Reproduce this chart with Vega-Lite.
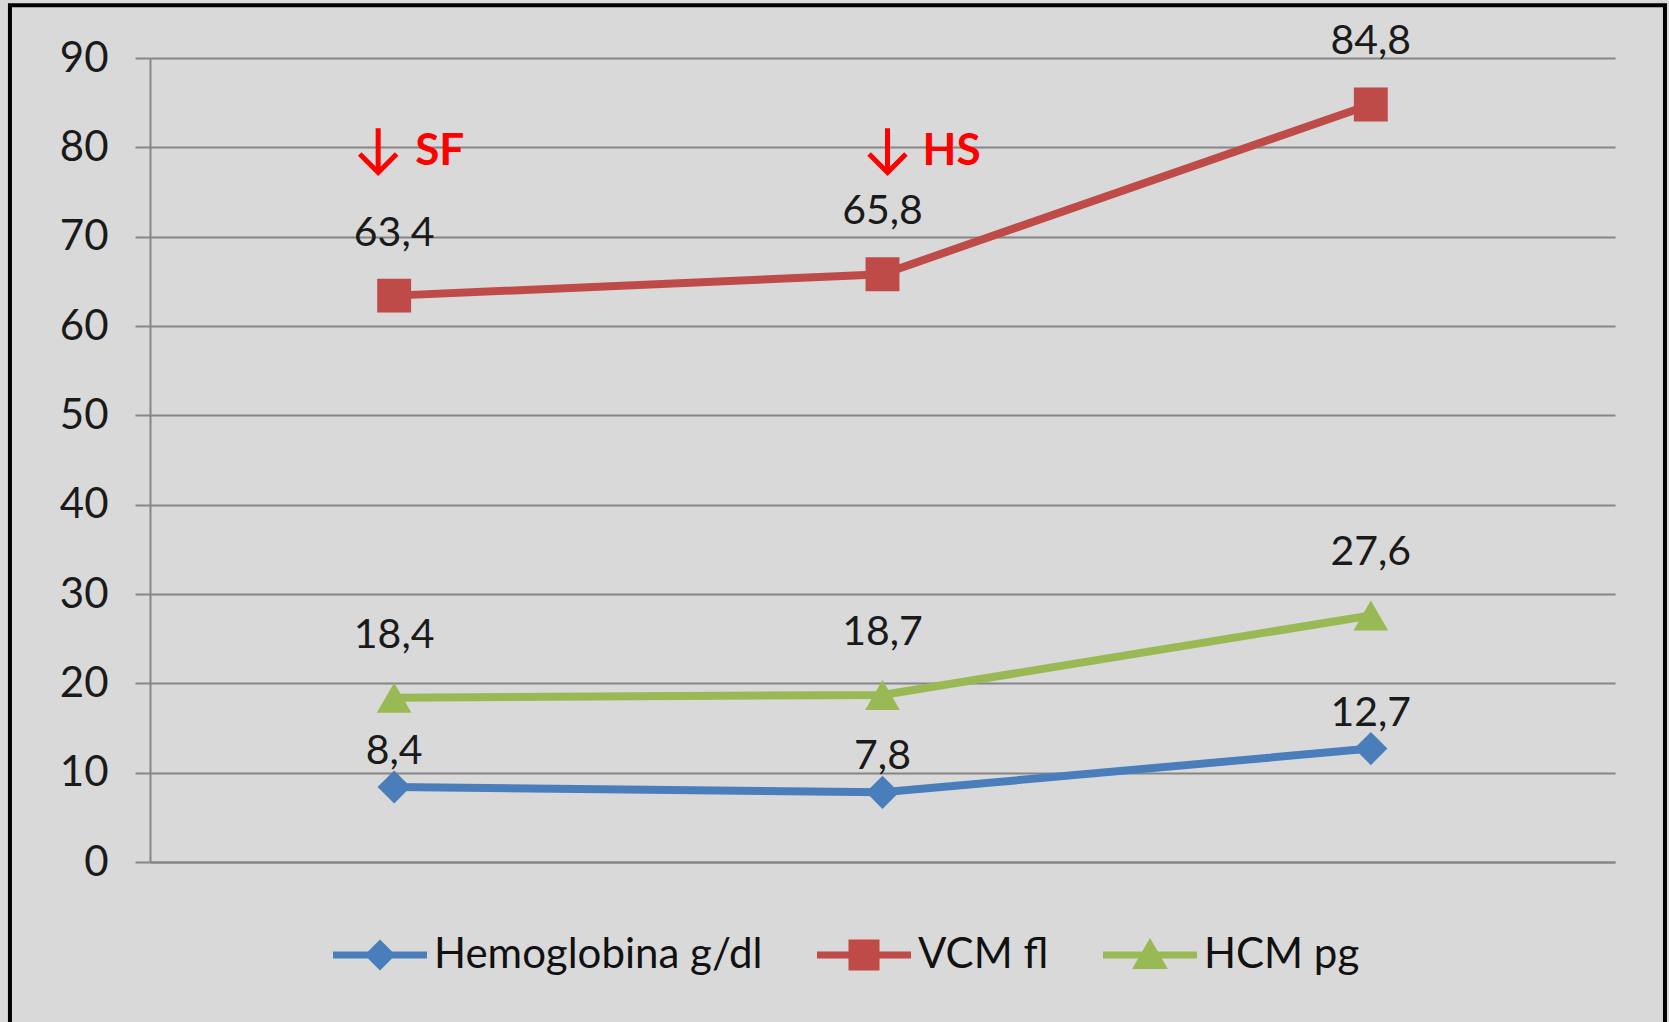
{
  "$schema": "https://vega.github.io/schema/vega-lite/v6.json",
  "width": 1465,
  "height": 804,
  "autosize": {"type": "none"},
  "padding": {"left": 150, "top": 58, "right": 54, "bottom": 160},
  "background": "#d9d9d9",
  "config": {
    "view": {"stroke": null},
    "font": "Lato",
    "locale": {"number": {"decimal": ",", "thousands": ".", "grouping": [3], "currency": ["", " €"]}}
  },
  "datasets": {
    "main": [
      {"cat": "1", "series": "Hemoglobina g/dl", "value": 8.4},
      {"cat": "2", "series": "Hemoglobina g/dl", "value": 7.8},
      {"cat": "3", "series": "Hemoglobina g/dl", "value": 12.7},
      {"cat": "1", "series": "VCM fl", "value": 63.4},
      {"cat": "2", "series": "VCM fl", "value": 65.8},
      {"cat": "3", "series": "VCM fl", "value": 84.8},
      {"cat": "1", "series": "HCM pg", "value": 18.4},
      {"cat": "2", "series": "HCM pg", "value": 18.7},
      {"cat": "3", "series": "HCM pg", "value": 27.6}
    ],
    "notes": [
      {"cat": "1", "value": 78, "note": "SF"},
      {"cat": "2", "value": 78, "note": "HS"}
    ],
    "frame": [{"k": 1}]
  },
  "resolve": {"scale": {"x": "independent"}, "axis": {"x": "independent"}},
  "layer": [
    {
      "data": {"name": "frame"},
      "mark": {"type": "rect", "fill": null, "stroke": "#000000", "strokeWidth": 4, "clip": false},
      "encoding": {
        "x": {"datum": -0.0956, "type": "quantitative", "scale": {"domain": [0, 1], "nice": false, "zero": false}, "axis": null},
        "x2": {"datum": 1.0341},
        "y": {"datum": 95.9, "type": "quantitative", "scale": {"domain": [0, 90], "nice": false, "zero": false}},
        "y2": {"datum": -25}
      }
    },
    {
      "layer": [
        {
          "data": {"name": "main"},
          "mark": {"type": "line", "strokeWidth": 8},
          "encoding": {
            "x": {"field": "cat", "type": "ordinal", "scale": {"type": "point", "padding": 0.5, "domain": ["1", "2", "3"]},
              "axis": {"labels": false, "ticks": false, "title": null, "grid": false, "domainColor": "#868686", "domainWidth": 2}},
            "y": {"field": "value", "type": "quantitative",
              "scale": {"domain": [0, 90], "nice": false, "zero": false},
              "axis": {"values": [0, 10, 20, 30, 40, 50, 60, 70, 80, 90], "title": null, "labelFontSize": 42, "labelFont": "Lato",
                "labelColor": "#1a1a1a", "labelPadding": 27, "tickSize": 15, "tickColor": "#868686", "tickWidth": 2,
                "domainColor": "#868686", "domainWidth": 2, "grid": true, "gridColor": "#868686", "gridWidth": 2}},
            "color": {"field": "series", "type": "nominal",
              "scale": {"domain": ["Hemoglobina g/dl", "VCM fl", "HCM pg"], "range": ["#4a7ebb", "#be4b48", "#98b954"]},
              "legend": {
                "title": null, "orient": "none", "legendX": 183, "legendY": 850, "direction": "horizontal",
                "labelFontSize": 42, "labelFont": "Lato", "labelColor": "#111111", "labelLimit": 0, "symbolSize": 8836,
                "labelOffset": 7, "columnPadding": 54, "symbolStrokeWidth": 0,
                "encode": {"symbols": {"update": {
                  "shape": {"signal": "datum.value === 'VCM fl' ? 'M-1,-0.075H1V0.075H-1Z M-0.33,-0.33H0.33V0.33H-0.33Z' : datum.value === 'HCM pg' ? 'M-1,-0.075H1V0.075H-1Z M0,-0.36L0.38,0.3H-0.38Z' : 'M-1,-0.075H1V0.075H-1Z M0,-0.33L0.33,0L0,0.33L-0.33,0Z'"},
                  "fill": {"signal": "datum.value === 'VCM fl' ? '#be4b48' : datum.value === 'HCM pg' ? '#98b954' : '#4a7ebb'"},
                  "strokeWidth": {"value": 0}
                }}}
              }},
            "order": {"field": "cat"}
          }
        },
        {
          "data": {"name": "main"},
          "mark": {"type": "point", "filled": true, "opacity": 1},
          "encoding": {
            "x": {"field": "cat", "type": "ordinal"},
            "y": {"field": "value", "type": "quantitative"},
            "color": {"field": "series", "type": "nominal"},
            "shape": {"field": "series", "type": "nominal", "scale": {"domain": ["VCM fl", "HCM pg", "Hemoglobina g/dl"], "range": ["square", "triangle-up", "diamond"]}, "legend": null},
            "size": {"field": "series", "type": "nominal", "scale": {"domain": ["HCM pg", "VCM fl", "Hemoglobina g/dl"], "range": [1200, 1100, 950]}, "legend": null}
          }
        },
        {
          "data": {"name": "main"},
          "transform": [{"filter": "datum.series !== 'Hemoglobina g/dl'"}],
          "mark": {"type": "text", "fontSize": 41, "font": "Lato", "color": "#1a1a1a", "baseline": "alphabetic", "dy": -50},
          "encoding": {
            "x": {"field": "cat", "type": "ordinal"},
            "y": {"field": "value", "type": "quantitative"},
            "text": {"field": "value", "type": "quantitative", "format": ".1f"}
          }
        },
        {
          "data": {"name": "main"},
          "transform": [{"filter": "datum.series === 'Hemoglobina g/dl'"}],
          "mark": {"type": "text", "fontSize": 41, "font": "Lato", "color": "#1a1a1a", "baseline": "alphabetic", "dy": -23},
          "encoding": {
            "x": {"field": "cat", "type": "ordinal"},
            "y": {"field": "value", "type": "quantitative"},
            "text": {"field": "value", "type": "quantitative", "format": ".1f"}
          }
        },
        {
          "data": {"name": "notes"},
          "transform": [{"filter": "datum.cat === '1'"}],
          "mark": {"type": "text", "fontSize": 44, "font": "Lato", "fontWeight": "bold", "color": "#ff0000", "baseline": "alphabetic", "align": "left", "dx": 21},
          "encoding": {
            "x": {"field": "cat", "type": "ordinal"},
            "y": {"field": "value", "type": "quantitative"},
            "text": {"field": "note"}
          }
        },
        {
          "data": {"name": "notes"},
          "transform": [{"filter": "datum.cat === '1'"}],
          "mark": {"type": "point", "shape": "M0,-1L0,0.97M-0.82,0.15L0,0.97L0.82,0.15", "filled": false, "stroke": "#ff0000", "strokeWidth": 5, "opacity": 1, "size": 2025, "xOffset": -16, "yOffset": -14.5},
          "encoding": {
            "x": {"field": "cat", "type": "ordinal"},
            "y": {"field": "value", "type": "quantitative"}
          }
        },
        {
          "data": {"name": "notes"},
          "transform": [{"filter": "datum.cat === '2'"}],
          "mark": {"type": "text", "fontSize": 44, "font": "Lato", "fontWeight": "bold", "color": "#ff0000", "baseline": "alphabetic", "align": "left", "dx": 40},
          "encoding": {
            "x": {"field": "cat", "type": "ordinal"},
            "y": {"field": "value", "type": "quantitative"},
            "text": {"field": "note"}
          }
        },
        {
          "data": {"name": "notes"},
          "transform": [{"filter": "datum.cat === '2'"}],
          "mark": {"type": "point", "shape": "M0,-1L0,0.97M-0.82,0.15L0,0.97L0.82,0.15", "filled": false, "stroke": "#ff0000", "strokeWidth": 5, "opacity": 1, "size": 2025, "xOffset": 5, "yOffset": -14.5},
          "encoding": {
            "x": {"field": "cat", "type": "ordinal"},
            "y": {"field": "value", "type": "quantitative"}
          }
        }
      ]
    }
  ]
}
